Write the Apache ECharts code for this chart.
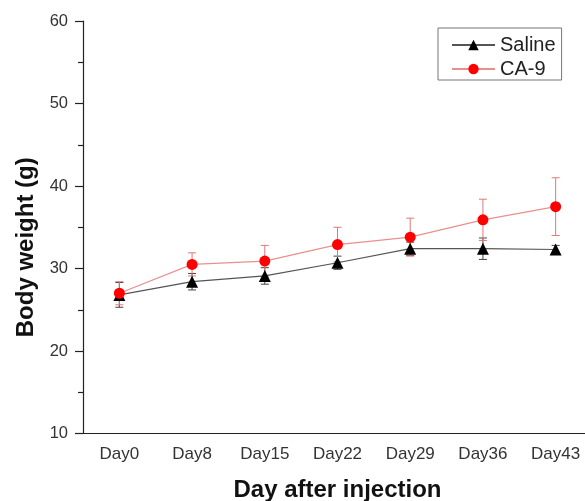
<!DOCTYPE html>
<html>
<head>
<meta charset="utf-8">
<script src="https://cdn.jsdelivr.net/npm/echarts@6/dist/echarts.min.js"></script>
<style>html,body{margin:0;padding:0;background:#fff}#c{width:585px;height:501px}</style>
</head>
<body>
<div id="c"></div>
<script>
const categories = ['Day0','Day8','Day15','Day22','Day29','Day36','Day43'];
const salineMean = [26.8, 28.4, 29.1, 30.7, 32.4, 32.4, 32.3];
const salineErr  = [1.5, 1.0, 1.0, 0.8, 0.8, 1.3, 0.5];
const ca9Mean    = [27.0, 30.5, 30.9, 32.9, 33.8, 35.9, 37.5];
const ca9Err     = [1.4, 1.4, 1.9, 2.1, 2.3, 2.5, 3.5];
const yTicks = [10, 20, 30, 40, 50, 60];

function errData(mean, err) {
  return mean.map((m, i) => [i, m - err[i], m + err[i]]);
}
function errRender(color) {
  return function (params, api) {
    const x = api.value(0);
    const lo = api.coord([x, api.value(1)]);
    const hi = api.coord([x, api.value(2)]);
    const hw = 4;
    const style = { stroke: color, lineWidth: 1, fill: null };
    return {
      type: 'group',
      children: [
        { type: 'line', shape: { x1: lo[0], y1: lo[1], x2: hi[0], y2: hi[1] }, style },
        { type: 'line', shape: { x1: lo[0] - hw, y1: lo[1], x2: lo[0] + hw, y2: lo[1] }, style },
        { type: 'line', shape: { x1: hi[0] - hw, y1: hi[1], x2: hi[0] + hw, y2: hi[1] }, style }
      ]
    };
  };
}

const chart = echarts.init(document.getElementById('c'), null, { renderer: 'canvas' });
const font = 'Liberation Sans, Arial, sans-serif';
chart.setOption({
  animation: false,
  backgroundColor: '#fff',
  grid: { left: 83, width: 509, top: 21, bottom: 67.5, containLabel: false, outerBoundsMode: 'none' },
  legend: {
    orient: 'vertical',
    left: 438, top: 28,
    itemWidth: 43, itemHeight: 13, itemGap: 4,
    padding: [7, 6, 1, 13],
    borderColor: '#777', borderWidth: 1,
    textStyle: { fontFamily: font, fontSize: 20, color: '#222' },
    data: ['Saline', 'CA-9']
  },
  xAxis: [{
    type: 'category',
    data: categories,
    boundaryGap: true,
    axisLine: { lineStyle: { color: '#222', width: 1.2 } },
    axisTick: { alignWithLabel: true, length: 7, lineStyle: { color: '#222', width: 1.2 } },
    axisLabel: { fontFamily: font, fontSize: 17, color: '#333', margin: 12 },
    name: 'Day after injection',
    nameLocation: 'middle',
    nameGap: 45,
    nameTextStyle: { fontFamily: font, fontSize: 24, fontWeight: 'bold', color: '#111' }
  }, {
    type: 'category',
    data: categories,
    boundaryGap: true,
    position: 'bottom',
    axisLine: { show: false },
    axisTick: { alignWithLabel: false, length: 4, lineStyle: { color: '#222', width: 1.2 } },
    axisLabel: { show: false }
  }],
  yAxis: {
    type: 'value',
    min: 10, max: 60, interval: 10,
    axisLine: { show: true, lineStyle: { color: '#222', width: 1.2 } },
    axisTick: { show: true, length: 8, lineStyle: { color: '#222', width: 1.2 } },
    minorTick: { show: true, splitNumber: 2, length: 5, lineStyle: { color: '#222', width: 1.2 } },
    splitLine: { show: false },
    axisLabel: { fontFamily: font, fontSize: 16.5, color: '#333', margin: 15 },
    name: 'Body weight (g)',
    nameLocation: 'middle',
    nameGap: 44,
    nameTextStyle: { fontFamily: font, fontSize: 24, fontWeight: 'bold', color: '#111', padding: [0, 40, 0, 0] }
  },
  series: [
    {
      name: 'Saline', type: 'line', data: salineMean,
      symbol: 'triangle', symbolSize: 12,
      lineStyle: { color: '#555', width: 1.2 },
      itemStyle: { color: '#000' },
      z: 3
    },
    {
      name: 'CA-9', type: 'line', data: ca9Mean,
      symbol: 'circle', symbolSize: 11,
      lineStyle: { color: '#e89090', width: 1.2 },
      itemStyle: { color: '#f00' },
      z: 4
    },
    {
      type: 'custom', name: 'salineErr', data: errData(salineMean, salineErr),
      renderItem: errRender('#444'), z: 2, silent: true
    },
    {
      type: 'custom', name: 'ca9Err', data: errData(ca9Mean, ca9Err),
      renderItem: errRender('#e07878'), z: 2, silent: true
    }
  ]
});
</script>
</body>
</html>
